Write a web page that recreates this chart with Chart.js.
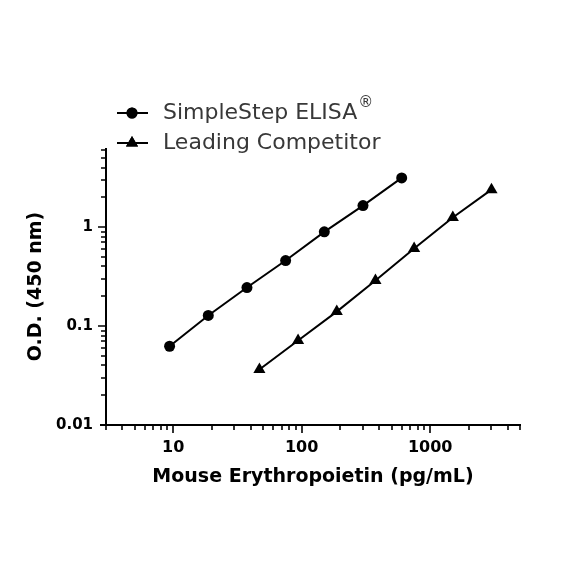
<!DOCTYPE html>
<html>
<head>
<meta charset="utf-8">
<script src="https://cdn.jsdelivr.net/npm/chart.js@4/dist/chart.umd.min.js"></script>
<style>
  html, body { margin: 0; padding: 0; background: #fff; }
  #wrap { width: 584px; height: 584px; }
</style>
</head>
<body>
<div id="wrap"><canvas id="chart" width="584" height="584"></canvas></div>
<script>
  "use strict";

  const simpleConc = [9.375, 18.75, 37.5, 75, 150, 300, 600];
  const simpleOD = [0.0625, 0.128, 0.245, 0.459, 0.895, 1.65, 3.14];
  const compConc = [46.875, 93.75, 187.5, 375, 750, 1500, 3000];
  const compOD = [0.0364, 0.0714, 0.14, 0.288, 0.607, 1.25, 2.39];

  const seriesNames = ["SimpleStep ELISA", "Leading Competitor"];
  const xMajorTicks = [10, 100, 1000];
  const yMajorTicks = [0.01, 0.1, 1];
  const X_MIN = 3;
  const X_MAX = 5000;
  const Y_MIN = 0.01;
  const Y_MAX = 6.3;

  const FONT = "'DejaVu Sans', sans-serif";
  const INK = "#000";

  function minorTicks(min, max) {
    const out = [];
    for (let p = Math.floor(Math.log10(min)); p <= Math.ceil(Math.log10(max)); p++) {
      for (let m = 1; m <= 9; m++) {
        const v = m * Math.pow(10, p);
        if (v >= min * 0.999 && v <= max * 1.001) out.push(v);
      }
    }
    return out;
  }

  function isMajor(v, majors) {
    return majors.some((m) => Math.abs(v / m - 1) < 1e-6);
  }

  const axesPlugin = {
    id: "axesAndTicks",
    afterDraw(chart) {
      const ctx = chart.ctx;
      const xs = chart.scales.x;
      const ys = chart.scales.y;
      const { left, right, top, bottom } = chart.chartArea;
      ctx.save();
      ctx.strokeStyle = INK;
      ctx.lineWidth = 2;
      ctx.lineCap = "butt";
      ctx.beginPath();
      ctx.moveTo(left, top);
      ctx.lineTo(left, bottom + 1);
      ctx.moveTo(left - 6, bottom);
      ctx.lineTo(right + 1, bottom);
      ctx.stroke();

      ctx.lineWidth = 1.6;
      ctx.beginPath();
      minorTicks(X_MIN, X_MAX).forEach((v) => {
        const x = Math.round(xs.getPixelForValue(v));
        const len = isMajor(v, xMajorTicks) ? 8 : 5;
        ctx.moveTo(x, bottom);
        ctx.lineTo(x, bottom + len);
      });
      minorTicks(Y_MIN, Y_MAX).forEach((v) => {
        const y = Math.round(ys.getPixelForValue(v));
        if (Math.abs(y - bottom) < 1) return;
        const len = isMajor(v, yMajorTicks) ? 8 : 5;
        ctx.moveTo(left, y);
        ctx.lineTo(left - len, y);
      });
      ctx.stroke();
      ctx.restore();
    },
  };

  const legendPlugin = {
    id: "customLegend",
    afterDraw(chart) {
      const ctx = chart.ctx;
      const rows = [
        { y: 113, style: "circle", radius: 5.5 },
        { y: 143, style: "triangle", radius: 7 },
      ];
      ctx.save();
      rows.forEach((row, i) => {
        ctx.strokeStyle = INK;
        ctx.lineWidth = 2;
        ctx.beginPath();
        ctx.moveTo(117, row.y);
        ctx.lineTo(148, row.y);
        ctx.stroke();
        ctx.fillStyle = INK;
        Chart.helpers.drawPoint(ctx, { pointStyle: row.style, radius: row.radius, borderWidth: 0 }, 132, row.y);
        ctx.fill();

        ctx.fillStyle = "#383838";
        ctx.font = "22px " + FONT;
        ctx.textBaseline = "middle";
        ctx.textAlign = "left";
        ctx.fillText(seriesNames[i], 163, row.y);
        if (i === 0) {
          const w = ctx.measureText(seriesNames[i]).width;
          ctx.font = "15px " + FONT;
          ctx.fillText("®", 163 + w + 1, row.y - 10);
        }
      });
      ctx.restore();
    },
  };

  function logTicks(min, max) {
    return (scale) => {
      scale.ticks = minorTicks(min, max).map((v) => ({ value: v }));
    };
  }

  new Chart(document.getElementById("chart"), {
    type: "line",
    data: {
      datasets: [
        {
          label: seriesNames[0],
          data: simpleConc.map((c, i) => ({ x: c, y: simpleOD[i] })),
          borderColor: INK,
          backgroundColor: INK,
          borderWidth: 2,
          pointStyle: "circle",
          pointRadius: 5.5,
          pointBorderWidth: 0,
          tension: 0,
        },
        {
          label: seriesNames[1],
          data: compConc.map((c, i) => ({ x: c, y: compOD[i] })),
          borderColor: INK,
          backgroundColor: INK,
          borderWidth: 2,
          pointStyle: "triangle",
          pointRadius: 7,
          pointBorderWidth: 0,
          tension: 0,
        },
      ],
    },
    options: {
      responsive: false,
      maintainAspectRatio: false,
      animation: false,
      events: [],
      layout: { padding: { left: 20, right: 64, top: 148, bottom: 92 } },
      plugins: {
        legend: { display: false },
        tooltip: { enabled: false },
      },
      scales: {
        x: {
          type: "logarithmic",
          min: X_MIN,
          max: X_MAX,
          afterBuildTicks: logTicks(X_MIN, X_MAX),
          afterFit: (s) => { s.height = 67; },
          grid: { display: false, drawTicks: false },
          border: { display: false },
          ticks: {
            autoSkip: false,
            maxRotation: 0,
            padding: 13,
            color: INK,
            font: { family: FONT, size: 16, weight: "bold" },
            callback: (v) => (isMajor(v, xMajorTicks) ? String(v) : ""),
          },
          title: {
            display: true,
            text: "Mouse Erythropoietin (pg/mL)",
            color: INK,
            font: { family: FONT, size: 19, weight: "bold" },
            padding: { top: 0, bottom: 4 },
          },
        },
        y: {
          type: "logarithmic",
          min: Y_MIN,
          max: Y_MAX,
          afterBuildTicks: logTicks(Y_MIN, Y_MAX),
          afterFit: (s) => { s.width = 86; },
          grid: { display: false, drawTicks: false },
          border: { display: false },
          ticks: {
            autoSkip: false,
            padding: 13,
            color: INK,
            font: { family: FONT, size: 15, weight: "bold" },
            callback: (v) => (isMajor(v, yMajorTicks) ? String(v) : ""),
          },
          title: {
            display: true,
            text: "O.D. (450 nm)",
            color: INK,
            font: { family: FONT, size: 19, weight: "bold" },
            padding: { top: 5, bottom: 0 },
          },
        },
      },
    },
    plugins: [axesPlugin, legendPlugin],
  });
</script>
</body>
</html>
